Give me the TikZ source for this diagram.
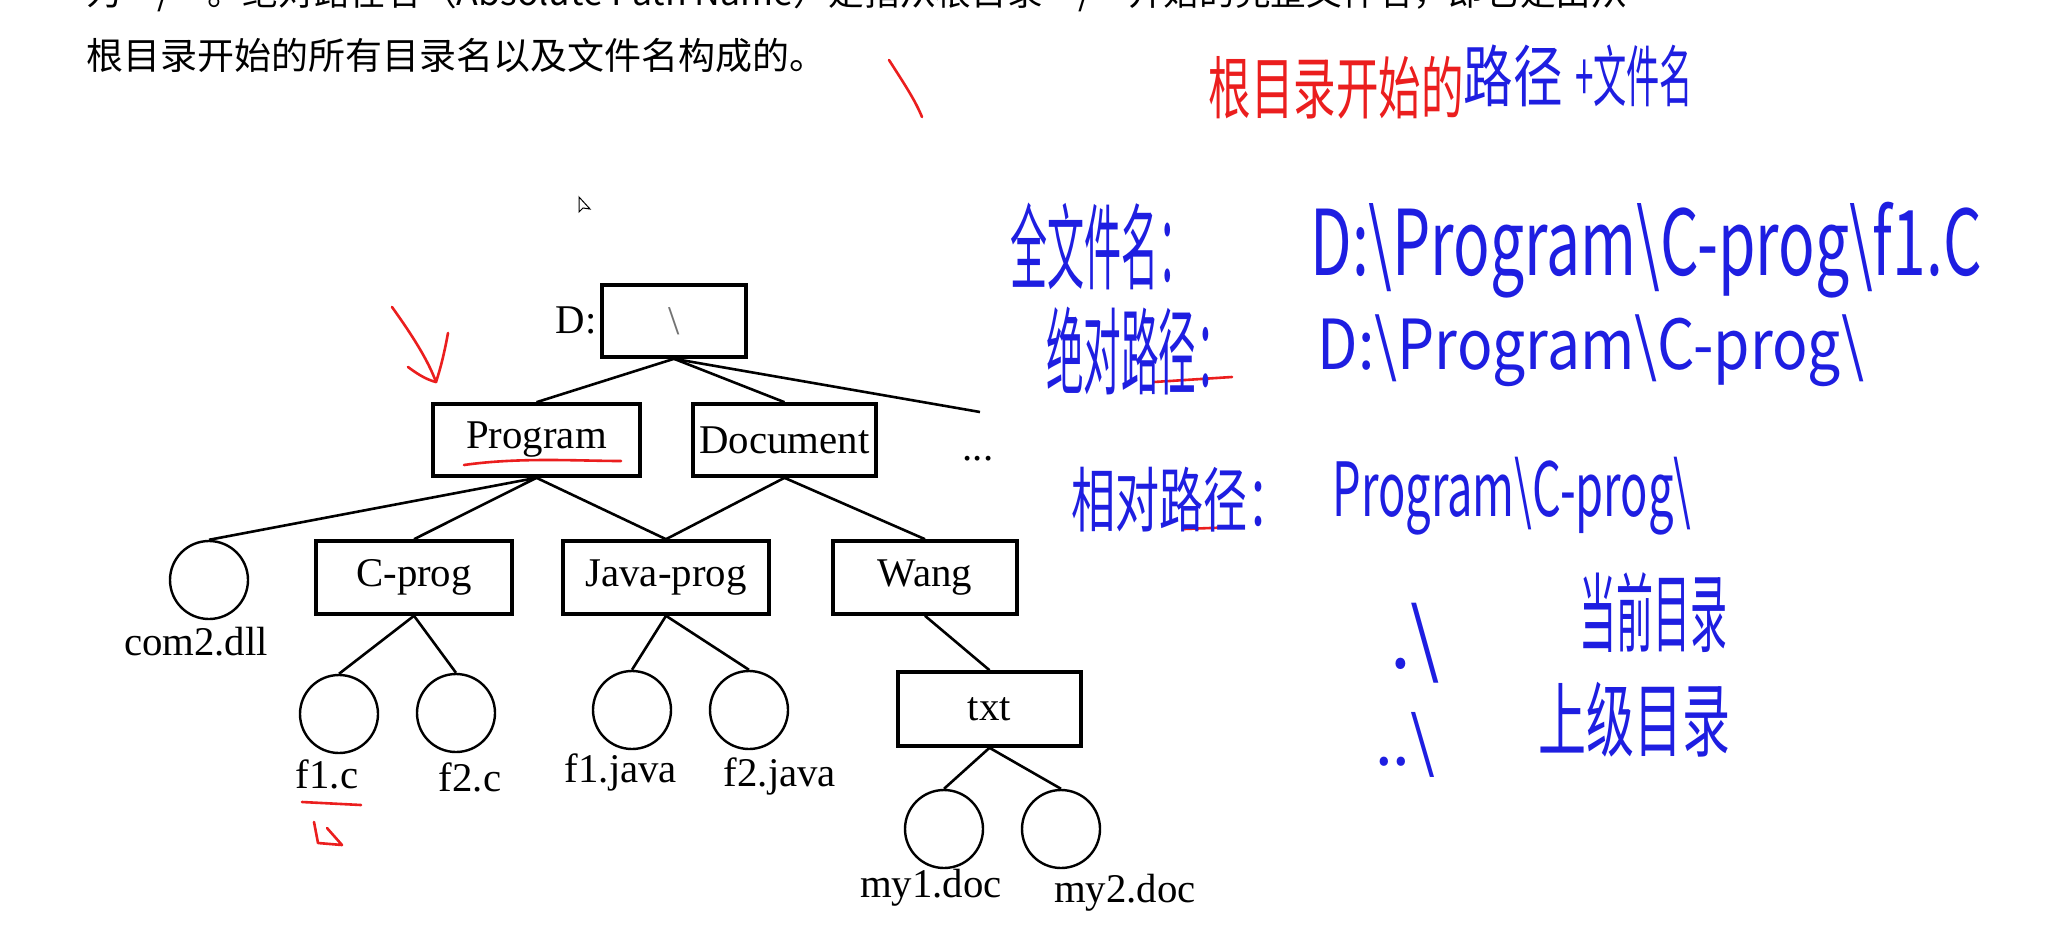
\documentclass[tikz,border=0pt]{standalone}
\usepackage{fontspec}
\setmainfont{Liberation Serif}
\newfontfamily\cjk{Noto Sans CJK SC}
\usepackage{graphicx}
\definecolor{hblue}{RGB}{30,30,225}
\definecolor{hred}{RGB}{235,30,30}
\newcommand\hwtext[3]{\resizebox*{#1pt}{#2pt}{\cjk #3}}
\begin{document}
\begin{tikzpicture}[x=1pt,y=-1pt,
  dirbox/.style={draw, rectangle, line width=3.6pt, inner sep=0pt, font=\fontsize{40.8}{48}\selectfont},
  filecirc/.style={draw, circle, line width=2.4pt, minimum size=78pt, inner sep=0pt},
  lab/.style={font=\fontsize{40.8}{48}\selectfont, inner sep=0pt, anchor=base},
  conn/.style={line width=2.6pt},
  hwb/.style={text=hblue, inner sep=0pt},
  hwr/.style={text=hred, inner sep=0pt},
  redink/.style={draw=hred, line width=2.6pt, line cap=round, line join=round},
  body/.style={font=\cjk\fontsize{37}{44}\selectfont, inner sep=0pt}]
\useasboundingbox (0,0) rectangle (2071,945);
\fill[white] (0,0) rectangle (2071,945);
\clip (0,0) rectangle (2071,945);

% body text (first line cut off by the top edge, as in the screenshot)
\node[body, anchor=south west] (line1) at (86,12) {\resizebox{1541pt}{!}{为“/”。绝对路径名（Absolute Path Name）是指从根目录“/”开始的完整文件名，即它是由从}};
\node[body, anchor=west] (line2) at (86,55) {根目录开始的所有目录名以及文件名构成的。};

% cursor
\draw[line width=1pt, fill=white] (579,197) -- (579,212) -- (583,208) -- (590,209) -- cycle;

% tree
\node[dirbox, minimum width=144pt, minimum height=72pt, text=black!55] (root) at (674,321) {\textbackslash};
\node[lab, anchor=center] (dlab) at (576,320) {D:};
\node[dirbox, minimum width=207pt, minimum height=72pt] (prog) at (536.5,440) {Program};
\node[dirbox, minimum width=183pt, minimum height=72pt] (doc) at (784.5,440) {Document};
\node[lab] (dots) at (978,460) {...};
\coordinate (more) at (980,412);

\node[filecirc] (com2) at (209,580) {};
\node[dirbox, minimum width=196pt, minimum height=73pt] (cprog) at (414,577.5) {C-prog};
\node[dirbox, minimum width=206pt, minimum height=73pt] (jprog) at (666,577.5) {Java-prog};
\node[dirbox, minimum width=184pt, minimum height=73pt] (wang) at (925,577.5) {Wang};

\node[filecirc] (f1c) at (339,714) {};
\node[filecirc] (f2c) at (456,713) {};
\node[filecirc] (f1j) at (632,710) {};
\node[filecirc] (f2j) at (749,710) {};
\node[dirbox, minimum width=183pt, minimum height=74pt] (txt) at (989.5,709) {txt};
\node[filecirc] (my1) at (944,829) {};
\node[filecirc] (my2) at (1061,829) {};

\node[lab] (lcom2) at (196,655) {com2.dll};
\node[lab] (lf1c) at (327,788) {f1.c};
\node[lab] (lf2c) at (470,791) {f2.c};
\node[lab] (lf1j) at (621,782) {f1.java};
\node[lab] (lf2j) at (780,786) {f2.java};
\node[lab] (lmy1) at (931,897) {my1.doc};
\node[lab] (lmy2) at (1125,902) {my2.doc};

\draw[conn] (root.south) -- (prog.north);
\draw[conn] (root.south) -- (doc.north);
\draw[conn] (root.south) -- (more);
\draw[conn] (prog.south) -- (com2.north);
\draw[conn] (prog.south) -- (cprog.north);
\draw[conn] (prog.south) -- (jprog.north);
\draw[conn] (doc.south) -- (jprog.north);
\draw[conn] (doc.south) -- (wang.north);
\draw[conn] (cprog.south) -- (f1c.north);
\draw[conn] (cprog.south) -- (f2c.north);
\draw[conn] (jprog.south) -- (f1j.north);
\draw[conn] (jprog.south) -- (f2j.north);
\draw[conn] (wang.south) -- (txt.north);
\draw[conn] (txt.south) -- (my1.north);
\draw[conn] (txt.south) -- (my2.north);

% red annotations
\draw[redink] (889,60) .. controls (905,85) and (915,100) .. (922,117);
\draw[redink] (392,307) .. controls (412,335) and (428,360) .. (436,382);
\draw[redink] (448,333) .. controls (444,355) and (440,370) .. (436,382);
\draw[redink] (408,367) .. controls (420,376) and (428,380) .. (436,382);
\draw[redink] (464,465) .. controls (520,457) and (580,461) .. (621,461);
\draw[redink] (302,802) -- (361,805);
\draw[redink] (314,822) -- (318,843) -- (342,845) -- (327,828);
\draw[redink] (1154,382) -- (1232,377);
\draw[redink] (1184,529) -- (1237,527);

% handwritten notes
\node[hwr] (hd1) at (1336,88) {\hwtext{255}{63}{根目录开始的}};
\node[hwb] (hd2) at (1513,76) {\hwtext{99}{62}{路径}};
\node[hwb] (hd3) at (1634,76) {\hwtext{118}{62}{+文件名}};

\node[hwb] (n1) at (1103,246) {\hwtext{185}{87}{全文件名：}};
\node[hwb] (p1) at (1646,250) {\hwtext{671}{96}{D:\textbackslash Program\textbackslash C-prog\textbackslash f1.C}};
\node[hwb] (n2) at (1140,351) {\hwtext{188}{88}{绝对路径：}};
\node[hwb] (p2) at (1591,351) {\hwtext{546}{72}{D:\textbackslash Program\textbackslash C-prog\textbackslash}};
\node[hwb] (n3) at (1181,500) {\hwtext{220}{65}{相对路径：}};
\node[hwb] (p3) at (1512,496) {\hwtext{359}{78}{Program\textbackslash C-prog\textbackslash}};
\node[hwb] (d1) at (1415,643) {\hwtext{50}{80}{.\textbackslash}};
\node[hwb] (t1) at (1653,613) {\hwtext{148}{80}{当前目录}};
\node[hwb] (d2) at (1405,745) {\hwtext{60}{65}{..\textbackslash}};
\node[hwb] (t2) at (1634,720) {\hwtext{192}{75}{上级目录}};
\end{tikzpicture}
\end{document}
